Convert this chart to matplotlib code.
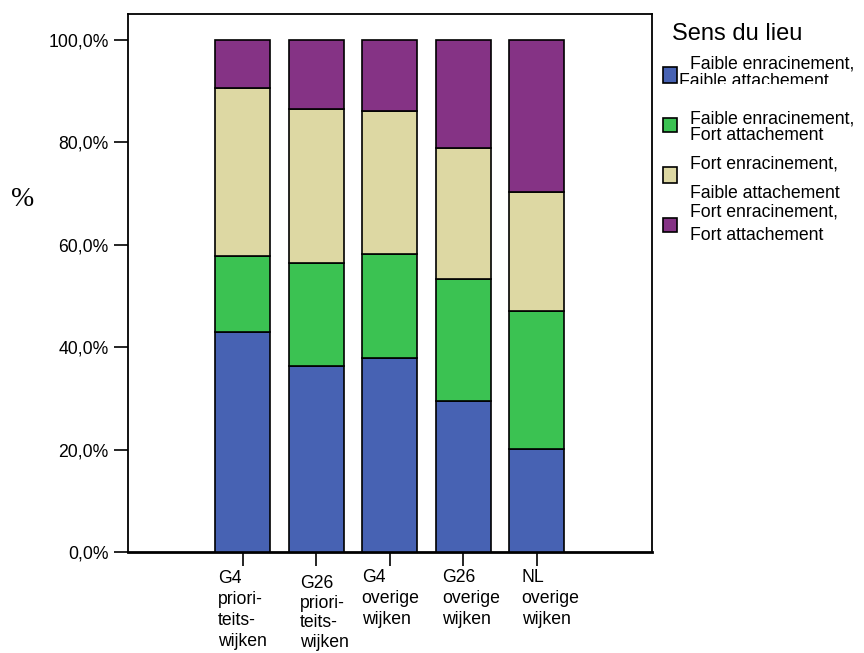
import matplotlib
matplotlib.use("Agg")
import matplotlib.pyplot as plt
import matplotlib.transforms as mtransforms
from matplotlib.patches import Rectangle
import numpy as np

# data (percent of each group)
groups = ["G4\npriori-\nteits-\nwijken", "G26\npriori-\nteits-\nwijken",
          "G4\noverige\nwijken", "G26\noverige\nwijken", "NL\noverige\nwijken"]
faible_faible = [42.9, 36.4, 37.8, 29.5, 20.2]
faible_fort = [14.8, 20.0, 20.3, 23.8, 26.9]
fort_faible = [32.9, 30.0, 28.0, 25.6, 23.2]
fort_fort = [9.4, 13.6, 13.9, 21.1, 29.7]

series_labels = [("Faible enracinement,", "Faible attachement"),
                 ("Faible enracinement,", "Fort attachement"),
                 ("Fort enracinement,", "Faible attachement"),
                 ("Fort enracinement,", "Fort attachement")]
colors = ["#4762b3", "#3bc252", "#ddd8a3", "#853385"]
legend_title = "Sens du lieu"
yticks = [0, 20, 40, 60, 80, 100]

W, H = 864, 653
plt.rcParams['font.family'] = ['Liberation Sans', 'DejaVu Sans']

fig = plt.figure(figsize=(W / 100, H / 100), dpi=100)
ax = fig.add_axes([127.7 / W, 1 - 552 / H, (652 - 127.7) / W, (552 - 13.7) / H])


def px(x, y):
    # pixel position (from top-left) -> figure fraction
    return x / W, 1 - y / H


x = np.arange(len(groups))
bottom = np.zeros(len(groups))
for vals, col in zip([faible_faible, faible_fort, fort_faible, fort_fort], colors):
    ax.bar(x, vals, width=0.75, bottom=bottom, color=col,
           edgecolor="black", linewidth=1.2, zorder=3)
    bottom += np.array(vals)

ax.set_xlim(-1.565, 5.57)
ax.set_ylim(0, 105.1)
ax.set_yticks(yticks)
ax.yaxis.set_major_formatter(plt.FuncFormatter(lambda v, p: ("%.1f%%" % v).replace(".", ",")))
ax.set_xticks(x)
ax.set_xticklabels([""] * len(groups))
ax.tick_params(axis="both", direction="out", length=10.2, width=1.2,
               labelsize=12.7, color="black")
ax.tick_params(axis="y", pad=3.5)
for sp in ax.spines.values():
    sp.set_linewidth(1.3)
ax.spines["bottom"].set_linewidth(2)

# category labels, placed a little like the original (left aligned)
label_dx = [-24.7, -16.5, -28, -21, -15]
label_top = [570, 575, 569, 569, 569]
label_ls = [1.3, 1.2, 1.3, 1.3, 1.3]
base = ax.get_xaxis_transform()
for i, lab in enumerate(groups):
    tr = mtransforms.offset_copy(base, fig=fig, x=label_dx[i],
                                 y=-(label_top[i] - 552), units="dots")
    ax.text(x[i], 0, lab, transform=tr, ha="left", va="top",
            fontsize=12.7, linespacing=label_ls[i])

fig.text(*px(22.5, 200), "%", family="Liberation Serif", fontsize=20,
         ha="center", va="center")

# legend drawn by hand to keep the uneven spacing of the original
fig.text(*px(672, 40.5), legend_title, fontsize=17, va="baseline")
line_pos = [((690, 68.5), (679, 86)), ((690, 123), (690, 140)),
            ((690, 168.5), (690, 198.5)), ((690, 216.5), (690, 240))]
box_y = [(67, 83), (118.5, 131.7), (167.3, 183.3), (218.3, 231.7)]
clip = Rectangle(px(640, 83.5), 224 / W, 40 / H, transform=fig.transFigure)
for (l1, l2), (p1, p2), (y0, y1), col in zip(series_labels, line_pos, box_y, colors):
    fig.text(*px(*p1), l1, fontsize=12.7, va="baseline")
    t2 = fig.text(*px(*p2), l2, fontsize=12.7, va="baseline")
    if p2[0] < 690:
        t2.set_clip_path(clip)
    fig.patches.append(Rectangle(px(662.5, y1), 14 / W, (y1 - y0) / H,
                                 transform=fig.transFigure, facecolor=col,
                                 edgecolor="black", linewidth=1.2))

fig.savefig("out.png", dpi=100)
